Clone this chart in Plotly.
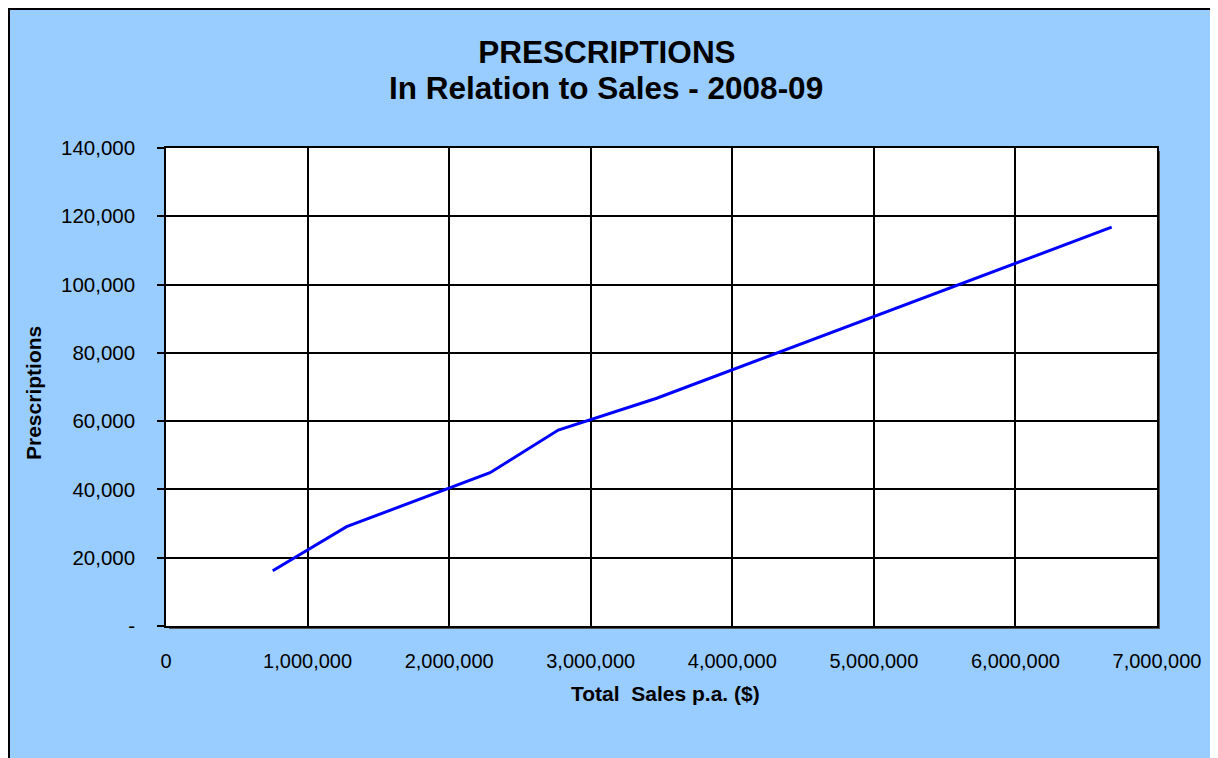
import plotly.graph_objects as go

# Data
total_sales = [754000, 1276000, 2289000, 2771000, 3466000, 6680000]
prescriptions = [16200, 29100, 44900, 57400, 66700, 116800]

x_tick_vals = [0, 1000000, 2000000, 3000000, 4000000, 5000000, 6000000, 7000000]
x_tick_text = ["0", "1,000,000", "2,000,000", "3,000,000", "4,000,000",
               "5,000,000", "6,000,000", "7,000,000"]
y_tick_vals = [0, 20000, 40000, 60000, 80000, 100000, 120000, 140000]
y_tick_text = ["-", "20,000", "40,000", "60,000", "80,000", "100,000",
               "120,000", "140,000"]

OFF = 8  # page body margin
W, H = 1206, 750
L, R, T, B = 166 - OFF, 1157 - OFF, 148 - OFF, 626 - OFF  # plot area in figure px


def px(x):
    return (x - OFF - L) / (R - L)


def py(y):
    return (B - (y - OFF)) / (B - T)


fig = go.Figure()
fig.add_trace(go.Scatter(
    x=total_sales, y=prescriptions, mode="lines",
    line=dict(color="#0000FF", width=3), showlegend=False,
))

FONT = "Liberation Sans, Arial, sans-serif"

fig.update_layout(
    width=W, height=H,
    margin=dict(l=L, r=W - R, t=T, b=H - B, pad=0),
    paper_bgcolor="#99CCFF",
    plot_bgcolor="rgba(0,0,0,0)",
    font=dict(family=FONT, color="black"),
    title=dict(
        text="<b>PRESCRIPTIONS</b>",
        x=(607 - OFF) / W, xref="container", xanchor="center",
        y=1 - (52 - OFF) / H, yref="container", yanchor="middle",
        font=dict(size=31.5, family=FONT, color="black"),
    ),
    xaxis=dict(
        range=[0, 7000000], tickvals=x_tick_vals, ticktext=x_tick_text,
        showgrid=True, gridcolor="black", gridwidth=1.5,
        showline=True, linecolor="black", linewidth=1.5, mirror=True,
        ticks="", ticklabelstandoff=16,
        tickfont=dict(size=20, family=FONT, color="black"),
        zeroline=False,
    ),
    yaxis=dict(
        range=[0, 140000], tickvals=y_tick_vals, ticktext=y_tick_text,
        showgrid=True, gridcolor="black", gridwidth=1.5,
        showline=True, linecolor="black", linewidth=1.5, mirror=True,
        ticks="outside", ticklen=7, tickcolor="black", tickwidth=1.5,
        ticklabelstandoff=18,
        tickfont=dict(size=20.5, family=FONT, color="black"),
        zeroline=False,
    ),
    shapes=[
        # chart area border
        dict(type="rect", xref="paper", yref="paper", layer="below",
             x0=px(9), x1=px(1213), y0=py(9), y1=py(790),
             fillcolor="rgba(0,0,0,0)", line=dict(color="black", width=2)),
        # plot area shadow
        dict(type="rect", xref="paper", yref="paper", layer="below",
             x0=px(166 + 3), x1=px(1157 + 3), y0=py(148 + 3), y1=py(626 + 3),
             fillcolor="#555555", line=dict(width=0)),
        # plot area background
        dict(type="rect", xref="paper", yref="paper", layer="below",
             x0=0, x1=1, y0=0, y1=1,
             fillcolor="white", line=dict(width=0)),
    ],
    annotations=[
        dict(text="<b>In Relation to Sales - 2008-09</b>",
             xref="paper", yref="paper", x=px(606), y=py(88),
             xanchor="center", yanchor="middle", showarrow=False,
             font=dict(size=31.5, family=FONT, color="black")),
        dict(text="<b>Prescriptions</b>", textangle=-90,
             xref="paper", yref="paper", x=px(33), y=py(393),
             xanchor="center", yanchor="middle", showarrow=False,
             font=dict(size=21, family=FONT, color="black")),
        dict(text="<b>Total  Sales p.a. ($)</b>",
             xref="paper", yref="paper", x=px(665), y=py(693),
             xanchor="center", yanchor="middle", showarrow=False,
             font=dict(size=21, family=FONT, color="black")),
    ],
)

fig.write_html("out.html")
